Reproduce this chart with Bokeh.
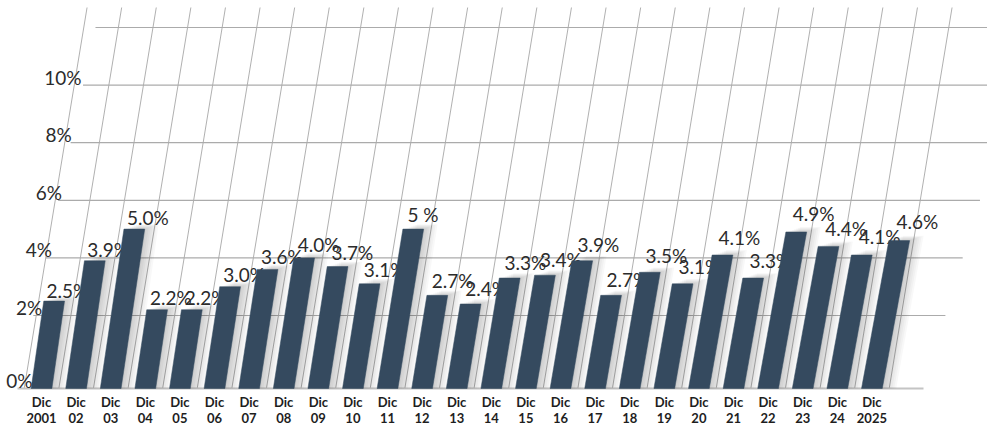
from bokeh.plotting import figure
from bokeh.models import Range1d, ColumnDataSource
from bokeh.core.properties import value
from bokeh.embed import file_html
from bokeh.resources import INLINE

# ---------------- data ----------------
month_label = "Dic"
years = ["2001", "02", "03", "04", "05", "06", "07", "08", "09", "10",
         "11", "12", "13", "14", "15", "16", "17", "18", "19", "20",
         "21", "22", "23", "24", "2025"]
rates = [2.5, 3.9, 5.0, 2.2, 2.2, 3.0, 3.6, 4.0, 3.7, 3.1,
         5.0, 2.7, 2.4, 3.3, 3.4, 3.9, 2.7, 3.5, 3.1, 4.1,
         3.3, 4.9, 4.4, 4.1, 4.6]
rate_labels = ["2.5%", "3.9%", "5.0%", "2.2%", "2.2%", "3.0%", "3.6%", "4.0%", "3.7%", "3.1%",
               "5 %", "2.7%", "2.4%", "3.3%", "3.4%", "3.9%", "2.7%", "3.5%", "3.1%", "4.1%",
               "3.3%", "4.9%", "4.4%", "4.1%", "4.6%"]
y_ticks = [0, 2, 4, 6, 8, 10]
y_tick_labels = ["0%", "2%", "4%", "6%", "8%", "10%"]
grid_top = 12

# ---------------- layout / style ----------------
W, H = 987, 429
PX_X = 34.6          # px per category step
X0 = 41.0            # px of first category centre
PX_Y = 28.8          # px per percent
Y0 = 372.6           # px (from top) of 0 %
FLOOR = -0.535       # 3-D floor level (in %)
BAR_W = 0.6          # in category steps
BAR_COLOR = "#354a5f"
TEXT_COLOR = "#2b2b2b"
FONT = "Lato"

def sk(px_per_px):
    # horizontal shift (category units) per percent for a given pixel slope
    return px_per_px * PX_Y / PX_X

def ux(px):
    return (px - X0) / PX_X

def uy(px):
    return (Y0 - px) / PX_Y

p = figure(width=W, height=H, x_range=Range1d(ux(0), ux(W)), y_range=Range1d(uy(H), uy(0)),
           output_backend="svg", toolbar_location=None, min_border=0,
           background_fill_color="white", border_fill_color="white")
p.axis.visible = False
p.grid.visible = False
p.outline_line_color = None

n = len(years)
idx = list(range(n))

# ---- vertical slanted grid lines ----
g_sk = sk(0.165)
vx, vy = [], []
top_v = uy(7)
for k in range(n + 1):
    xb = k - 0.5
    vx.append([xb, xb + g_sk * (top_v - FLOOR)])
    vy.append([FLOOR, top_v])
p.multi_line(vx, vy, line_color="#9c9c9c", line_width=0.8)

# ---- horizontal grid lines ----
left_sk = sk(0.216)
right_sk = sk(0.30)
L0 = ux(17)
R0 = ux(923)
levels = [t for t in y_ticks if t > 0] + [grid_top]
hx, hy = [], []
for lv in levels:
    hx.append([L0 + left_sk * (lv - FLOOR), R0 + right_sk * (lv - FLOOR)])
    hy.append([lv, lv])
p.multi_line(hx, hy, line_color="#ababab", line_width=1.2)
p.line([L0, R0], [FLOOR, FLOOR], line_color="#c4c4c4", line_width=2)

# ---- y tick labels ----
tick_y = [FLOOR if t == 0 else t for t in y_ticks]
tick_x = [ux(32 + 4.9 * t) for t in y_ticks]
tick_src = ColumnDataSource(dict(x=tick_x, y=[ty + 8 / PX_Y for ty in tick_y], t=y_tick_labels))
p.text(x="x", y="y", text="t", source=tick_src, text_font=value(FONT), text_font_size="19px",
       text_align="right", text_baseline="alphabetic", text_color=TEXT_COLOR)

# ---- bars geometry ----
bar_sk = [sk(0.145 + 0.04 * i / (n - 1)) for i in idx]
bxs, bys = [], []
for i, v in zip(idx, rates):
    s = bar_sk[i] * (v - FLOOR)
    bl, br = i - BAR_W / 2, i + BAR_W / 2
    bxs.append([bl, br, br + s, bl + s])
    bys.append([FLOOR, FLOOR, v, v])

# ---- shadows ----
for d in (2, 4, 6, 8, 10, 12, 14):
    dx = d / PX_X
    dy = d * 0.35 / PX_Y
    sxs = [[xx + dx for xx in xs] for xs in bxs]
    sys_ = [[ys[0], ys[1], ys[2] + dy, ys[3] + dy] for ys in bys]
    p.patches(sxs, sys_, fill_color="#000000", fill_alpha=0.028, line_color=None)

# ---- value labels (drawn behind bars) ----
lab_x, lab_y = [], []
for i, v in zip(idx, rates):
    d_px = 11 + 8 * i / (n - 1)
    yl = v + d_px / PX_Y
    lab_y.append(yl)
    lab_x.append(i - BAR_W / 2 + bar_sk[i] * (yl - FLOOR) + (1 + 3 * i / (n - 1)) / PX_X)
val_src = ColumnDataSource(dict(x=lab_x, y=lab_y, t=rate_labels))
p.text(x="x", y="y", text="t", source=val_src, text_font=value(FONT), text_font_size="19px",
       text_align="left", text_baseline="alphabetic", text_color=TEXT_COLOR)

# ---- bars ----
p.patches(bxs, bys, fill_color=BAR_COLOR, line_color=BAR_COLOR, line_width=0.5)

# ---- category labels ----
cat_src = ColumnDataSource(dict(x=idx, m=[month_label] * n, yr=years,
                                y1=[uy(401.5)] * n, y2=[uy(417.5)] * n))
p.text(x="x", y="y1", text="m", source=cat_src, text_font=value(FONT), text_font_size="13px",
       text_font_style="bold", text_align="center", text_baseline="middle", text_color="#1e1e1e")
p.text(x="x", y="y2", text="yr", source=cat_src, text_font=value(FONT), text_font_size="13px",
       text_font_style="bold", text_align="center", text_baseline="middle", text_color="#1e1e1e")

open("out.html", "w").write(file_html(p, INLINE))
